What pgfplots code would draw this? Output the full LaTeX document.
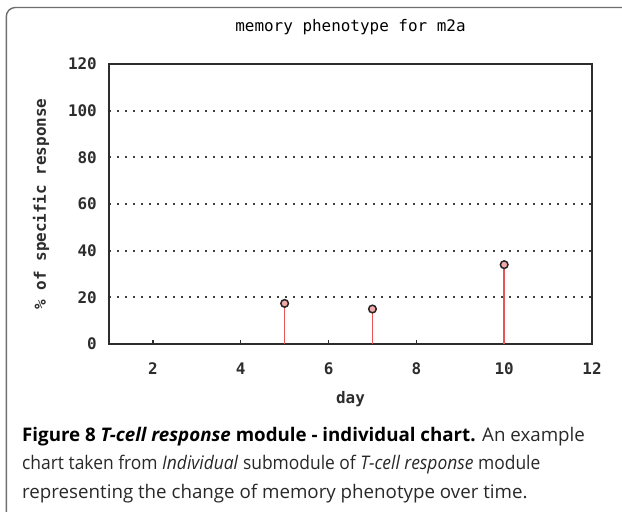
\documentclass[border=0pt]{standalone}
\usepackage{fontspec}
\usepackage{graphicx}
\usepackage{pgfplots}
\pgfplotsset{compat=1.18}
\newfontfamily\chartfont{DejaVu Sans Mono}
\newfontfamily\capfont{Open Sans}
\definecolor{stemred}{RGB}{236,84,84}
\definecolor{markfill}{RGB}{240,170,170}
\definecolor{framegray}{RGB}{110,110,110}
\definecolor{axisgray}{RGB}{45,45,45}
\definecolor{captext}{RGB}{40,40,40}

\begin{document}
\begin{tikzpicture}
\path[use as bounding box] (0,0) rectangle (622bp,-512bp);
% rounded frame round figure and caption (cut at right and bottom)
\draw[framegray, line width=1.4bp, rounded corners=9bp]
  (660bp,-7.5bp) -- (6.3bp,-7.5bp) -- (6.3bp,-560bp);

\begin{axis}[
  at={(109bp,-344bp)}, anchor=south west,
  scale only axis, width=483bp, height=280bp,
  xmin=1, xmax=12, ymin=0, ymax=120,
  xtick={2,4,...,12}, ytick={0,20,...,120},
  xtick pos=bottom, ytick pos=left,
  tick align=inside,
  major tick length=4bp,
  ytick style={draw=none},
  xtick style={line width=1.4bp, draw=axisgray},
  axis line style={line width=1.6bp, draw=axisgray},
  ymajorgrids,
  major grid style={line width=1.8bp, draw=black!75, dash pattern=on 1.8bp off 6.2bp},
  /pgf/number format/assume math mode=true,
  ticklabel style={font=\chartfont\bfseries\fontsize{16}{18}\selectfont, text=axisgray},
  xticklabel style={anchor=center, inner sep=0pt, yshift=-24.5bp},
  yticklabel style={anchor=east, inner sep=0pt, xshift=-12bp},
  title={memory phenotype for m2a},
  title style={font=\chartfont\fontsize{16}{18}\selectfont, text=black, anchor=center,
    at={(axis description cs:0.5,1.111)}},
  xlabel={day},
  xlabel style={font=\chartfont\bfseries\fontsize{16}{18}\selectfont, text=axisgray, anchor=center,
    at={(axis description cs:0.5,-0.196)}},
  ylabel={\% of specific response},
  ylabel style={font=\chartfont\bfseries\fontsize{16}{18}\selectfont, text=axisgray, anchor=center,
    at={(axis description cs:-0.1408,0.5)}},
]
% stems
\addplot[ycomb, draw=stemred, line width=1.6bp, mark=none]
  coordinates {(5,17.4) (7,15.0) (10,34.0)};
% open circle markers
\addplot[only marks, mark=*, mark size=3.8bp,
  mark options={fill=markfill, draw=black!85, line width=1.5bp}]
  coordinates {(5,17.4) (7,15.0) (10,34.0)};
\end{axis}

% caption
\begin{scope}[every node/.style={anchor=base west, inner sep=0pt, text=captext,
    font=\capfont\fontsize{18.8}{24}\selectfont}]
\node at (22bp,-441bp) {{\color{black}\bfseries Figure 8 \textit{T-cell response} module - individual chart.} An example};
\node at (22bp,-469.5bp) {\scalebox{0.93}[1]{chart taken from \textit{Individual} submodule of \textit{T-cell response} module}};
\node at (22bp,-498bp) {representing the change of memory phenotype over time.};
\end{scope}
\end{tikzpicture}
\end{document}
